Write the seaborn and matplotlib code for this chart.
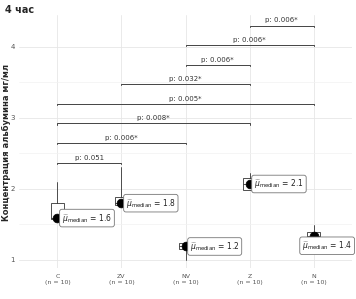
import matplotlib
matplotlib.use('Agg')
import matplotlib.pyplot as plt
import pandas as pd
import numpy as np
import seaborn as sns

# groups and box statistics
groups = ['C', 'ZV', 'NV', 'Z', 'N']
n_obs = [10, 10, 10, 10, 10]
med = [1.59, 1.80, 1.19, 2.07, 1.34]
q1 = [1.58, 1.77, 1.15, 1.99, 1.28]
q3 = [1.80, 1.89, 1.24, 2.15, 1.39]
wlo = [1.56, 1.76, 1.00, 1.98, 1.27]
whi = [2.10, 2.31, 1.25, 2.22, 1.49]
med_label = ['1.6', '1.8', '1.2', '2.1', '1.4']

# pairwise comparisons (bottom to top)
pair_a = ['C', 'C', 'C', 'C', 'ZV', 'NV', 'NV', 'Z']
pair_b = ['ZV', 'NV', 'Z', 'N', 'Z', 'Z', 'N', 'N']
p_text = ['p: 0.051', 'p: 0.006*', 'p: 0.008*', 'p: 0.005*',
          'p: 0.032*', 'p: 0.006*', 'p: 0.006*', 'p: 0.006*']

df = pd.DataFrame({'group': groups, 'median': med})

sns.set_theme(style='whitegrid')
plt.rcParams['font.family'] = ['DejaVu Sans']

fig = plt.figure(figsize=(3.56, 2.99), dpi=100)
ax = fig.add_axes([19 / 356, 1 - 268 / 299, 333 / 356, 253 / 299])

pos = np.arange(len(groups))
stats = [dict(med=m, q1=a, q3=b, whislo=lo, whishi=hi, label=g)
         for g, m, a, b, lo, hi in zip(groups, med, q1, q3, wlo, whi)]
ax.bxp(stats, positions=pos, widths=0.2, showfliers=False, showcaps=False,
       patch_artist=True,
       boxprops=dict(facecolor='white', edgecolor='#333333', linewidth=0.6),
       medianprops=dict(color='#333333', linewidth=0.6),
       whiskerprops=dict(color='#333333', linewidth=0.6))

sns.scatterplot(data=df, x='group', y='median', color='black', s=40,
                edgecolor='black', zorder=5, ax=ax, legend=False)

# median labels
lab_x = [0.07, 0.07, 0.07, 0.07, -0.18]
lab_y = [0.0, 0.0, 0.0, 0.0, -0.14]
for i, v in enumerate(med_label):
    ax.text(pos[i] + lab_x[i], med[i] + lab_y[i],
            r'$\widehat{\mu}_{\mathrm{median}}$ = ' + v,
            ha='left', va='center', fontsize=5.5, color='#222222', zorder=6,
            bbox=dict(boxstyle='round,pad=0.3,rounding_size=0.3',
                      facecolor='white', edgecolor='#777777', linewidth=0.6))

# significance brackets
y0, step, tip = 2.37, 0.276, 0.015
for i, (a, b, t) in enumerate(zip(pair_a, pair_b, p_text)):
    xa, xb = groups.index(a), groups.index(b)
    y = y0 + i * step
    ax.plot([xa, xa, xb, xb], [y - tip, y, y, y - tip], color='#444444',
            lw=0.7, zorder=4)
    ax.text((xa + xb) / 2, y + 0.03, t, ha='center', va='bottom',
            fontsize=5, color='#333333')

ax.set_xlim(-0.6, 4.6)
ax.set_ylim(0.887, 4.45)
ax.set_yticks([1, 2, 3, 4])
ax.set_yticks([1.5, 2.5, 3.5], minor=True)
ax.set_xticks(pos)
ax.set_xticklabels([f'{g}\n(n = {n})' for g, n in zip(groups, n_obs)],
                   fontsize=4.5, color='#555555', linespacing=1.1)
ax.tick_params(axis='y', labelsize=5, colors='#555555', length=2, width=0.5, pad=1)
ax.tick_params(axis='x', length=2, width=0.5, pad=2.5, colors='#555555')
ax.tick_params(which='minor', length=0)
ax.grid(which='major', color='#e6e6e6', lw=0.6)
ax.grid(which='minor', color='#f2f2f2', lw=0.5)
for s in ax.spines.values():
    s.set_visible(False)
ax.set_xlabel('')
ax.set_ylabel('')
fig.text(6 / 356, 1 - 142 / 299, 'Концентрация альбумина мг/мл', fontsize=6,
         fontweight='bold', rotation=90, ha='center', va='center')
fig.text(5 / 356, 1 - 10 / 299, '4 час', fontsize=7, fontweight='bold',
         ha='left', va='center')

fig.savefig('out.png', dpi=100)
